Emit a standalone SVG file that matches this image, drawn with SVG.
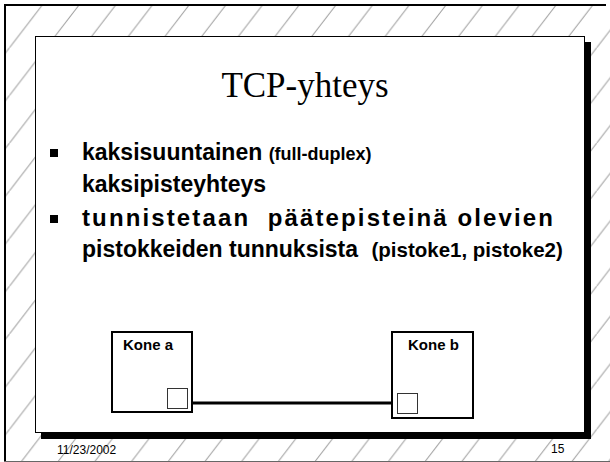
<svg xmlns="http://www.w3.org/2000/svg" width="610" height="462" viewBox="0 0 610 462">
  <style>
    .title { font-family: "Liberation Serif", "Times New Roman", serif; font-size: 35px; fill: #000; }
    .main { font-family: "Liberation Sans", Arial, sans-serif; font-weight: bold; font-size: 23px; fill: #000; }
    .small { font-family: "Liberation Sans", Arial, sans-serif; font-weight: bold; fill: #000; }
    .label { font-family: "Liberation Sans", Arial, sans-serif; font-weight: bold; font-size: 15px; fill: #000; }
    .foot { font-family: "Liberation Sans", Arial, sans-serif; font-size: 12px; fill: #000; }
    .box { fill: #fff; stroke: #000; stroke-width: 2; }
    .port { fill: #fff; stroke: #333; stroke-width: 1; }
    .bullet { fill: #000; }
  </style>
  <defs>
    <pattern id="hatch" patternUnits="userSpaceOnUse" x="9.5" y="0" width="36.7" height="47.7">
      <line x1="-1" y1="49" x2="37.7" y2="-1.3" stroke="#999" stroke-width="1"/>
    </pattern>
  </defs>
  <rect x="0" y="0" width="610" height="462" fill="#fff"/>
  <rect x="5" y="5" width="605" height="456" fill="url(#hatch)"/>
  <!-- outer frame -->
  <line x1="4" y1="5" x2="606" y2="5" stroke="#000" stroke-width="2"/>
  <line x1="5" y1="4" x2="5" y2="462" stroke="#000" stroke-width="2"/>
  <line x1="4" y1="461.5" x2="610" y2="461.5" stroke="#666" stroke-width="1"/>
  <!-- slide with shadow -->
  <rect x="41" y="42" width="550" height="397" fill="#000"/>
  <rect x="35.5" y="36.5" width="549" height="396" fill="#fff" stroke="#000" stroke-width="1"/>

  <text class="title" x="305" y="97" text-anchor="middle">TCP-yhteys</text>

  <rect class="bullet" x="50" y="149" width="8" height="8"/>
  <text class="main" x="82" y="160">kaksisuuntainen <tspan class="small" style="font-size:18px">(full-duplex)</tspan></text>
  <text class="main" x="82" y="192">kaksipisteyhteys</text>
  <rect class="bullet" x="50" y="215" width="8" height="8"/>
  <text class="main" x="82" y="226" style="font-size:24px" xml:space="preserve" textLength="471" lengthAdjust="spacing">tunnistetaan  päätepisteinä olevien</text>
  <text class="main" x="82" y="257">pistokkeiden tunnuksista <tspan class="small" style="font-size:20.5px" dx="7">(pistoke1, pistoke2)</tspan></text>

  <g id="connectors">
    <line x1="187" y1="403" x2="397" y2="403" stroke="#000" stroke-width="3"/>
  </g>
  <g id="kone-a">
    <rect class="box" x="112" y="332" width="80" height="80"/>
    <text class="label" x="123" y="350">Kone a</text>
    <rect class="port" x="167.5" y="388.5" width="20" height="20"/>
  </g>
  <g id="kone-b">
    <rect class="box" x="392" y="332" width="81" height="86"/>
    <text class="label" x="408" y="350">Kone b</text>
    <rect class="port" x="397.5" y="393.5" width="20" height="20"/>
  </g>

  <text class="foot" x="57" y="454">11/23/2002</text>
  <text class="foot" x="551" y="453">15</text>
</svg>
